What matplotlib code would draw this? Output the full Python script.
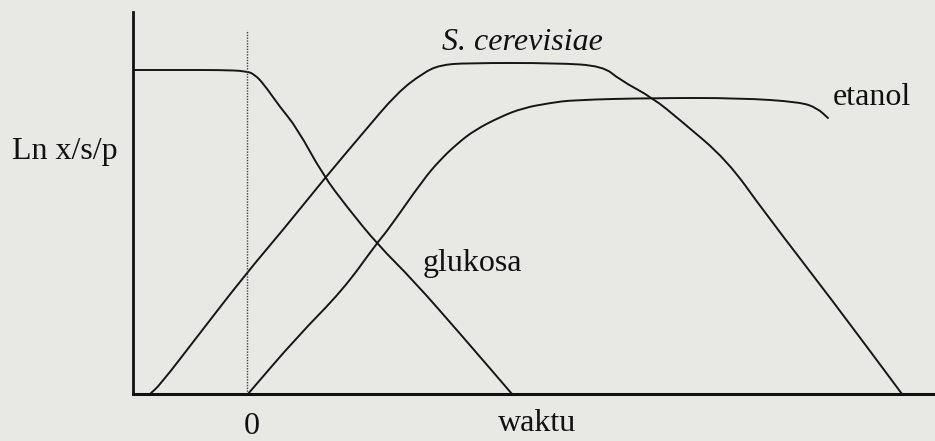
import numpy as np
import matplotlib
matplotlib.use("Agg")
import matplotlib.pyplot as plt
from matplotlib.path import Path
import matplotlib.patches as mpatches

# kurva pertumbuhan (sketsa) - waktu vs ln x/s/p, titik
glukosa_t = [-2.28, -1.34, -0.54, 0.0, 0.16, 0.32, 0.66, 1.0, 1.52, 2.0, 2.62, 3.32, 4.32, 5.3]
glukosa_y = [6.48, 6.48, 6.48, 6.46, 6.38, 6.22, 5.74, 5.32, 4.38, 3.74, 2.98, 2.28, 1.14, 0.0]

sc_t = [-1.94, -1.74, -1.0, -0.04, 0.72, 1.56, 2.32, 3.0, 3.52, 3.86, 4.4, 6.2, 7.12, 7.46, 8.12, 8.66, 9.6, 10.36, 11.7, 13.1]
sc_y = [0.0, 0.18, 1.14, 2.38, 3.28, 4.32, 5.22, 6.02, 6.42, 6.58, 6.62, 6.62, 6.56, 6.28, 5.92, 5.48, 4.68, 3.62, 1.88, 0.0]

etanol_t = [0.02, 1.0, 1.92, 2.6, 2.82, 3.52, 3.86, 4.22, 4.56, 5.06, 5.52, 6.06, 6.52, 8.12, 9.86, 11.06, 11.4, 11.62]
etanol_y = [0.0, 1.14, 2.08, 3.02, 3.28, 4.28, 4.68, 5.02, 5.28, 5.54, 5.72, 5.82, 5.88, 5.92, 5.92, 5.84, 5.72, 5.52]

bg = '#e8e8e5'
lc = '#151515'


def smooth_line(ax, t, y):
    # titik sebagai titik kontrol kurva kuadratik, biar garis tidak patah-patah
    pts = np.column_stack([t, y])
    verts = [pts[0], (pts[0] + pts[1]) / 2]
    codes = [Path.MOVETO, Path.LINETO]
    for i in range(1, len(pts) - 1):
        verts += [pts[i], (pts[i] + pts[i + 1]) / 2]
        codes += [Path.CURVE3, Path.CURVE3]
    verts.append(pts[-1]); codes.append(Path.LINETO)
    p = mpatches.PathPatch(Path(verts, codes), fill=False, edgecolor=lc, lw=1.4, capstyle='round', joinstyle='round')
    ax.add_patch(p)


fig = plt.figure(figsize=(9.35, 4.41), dpi=100, facecolor=bg)
ax = fig.add_axes([0.1422, 0.1066, 0.8578, 0.8662])
ax.set_facecolor(bg)

smooth_line(ax, glukosa_t, glukosa_y)
smooth_line(ax, sc_t, sc_y)
smooth_line(ax, etanol_t, etanol_y)
ax.plot([0, 0], [0, 7.28], color='#444444', lw=1.0, ls=(0, (1, 1)))   # garis titik di t=0

ax.set_xlim(-2.28, 13.76)
ax.set_ylim(0, 7.64)
ax.set_xticks([]); ax.set_yticks([])
for s in ['top', 'right']:
    ax.spines[s].set_visible(False)
ax.spines['left'].set_linewidth(2.0)
ax.spines['bottom'].set_linewidth(2.2)
ax.spines['left'].set_color('#111111')
ax.spines['bottom'].set_color('#111111')

fnt = 'Liberation Serif'
fs = 23
ax.text(3.9, 6.88, 'S. cerevisiae', family=fnt, style='italic', fontsize=fs, ha='left', va='baseline', color='#111')
ax.text(11.72, 5.78, 'etanol', family=fnt, fontsize=fs, ha='left', va='baseline', color='#111')
ax.text(3.52, 2.46, 'glukosa', family=fnt, fontsize=fs, ha='left', va='baseline', color='#111')
ax.text(-2.58, 4.7, 'Ln x/s/p', family=fnt, fontsize=fs, ha='right', va='baseline', color='#111')
ax.text(0.1, -0.8, '0', family=fnt, fontsize=fs, ha='center', va='baseline', color='#111')
ax.text(5.8, -0.74, 'waktu', family=fnt, fontsize=fs, ha='center', va='baseline', color='#111')

plt.savefig('out.png', dpi=100, facecolor=bg)
